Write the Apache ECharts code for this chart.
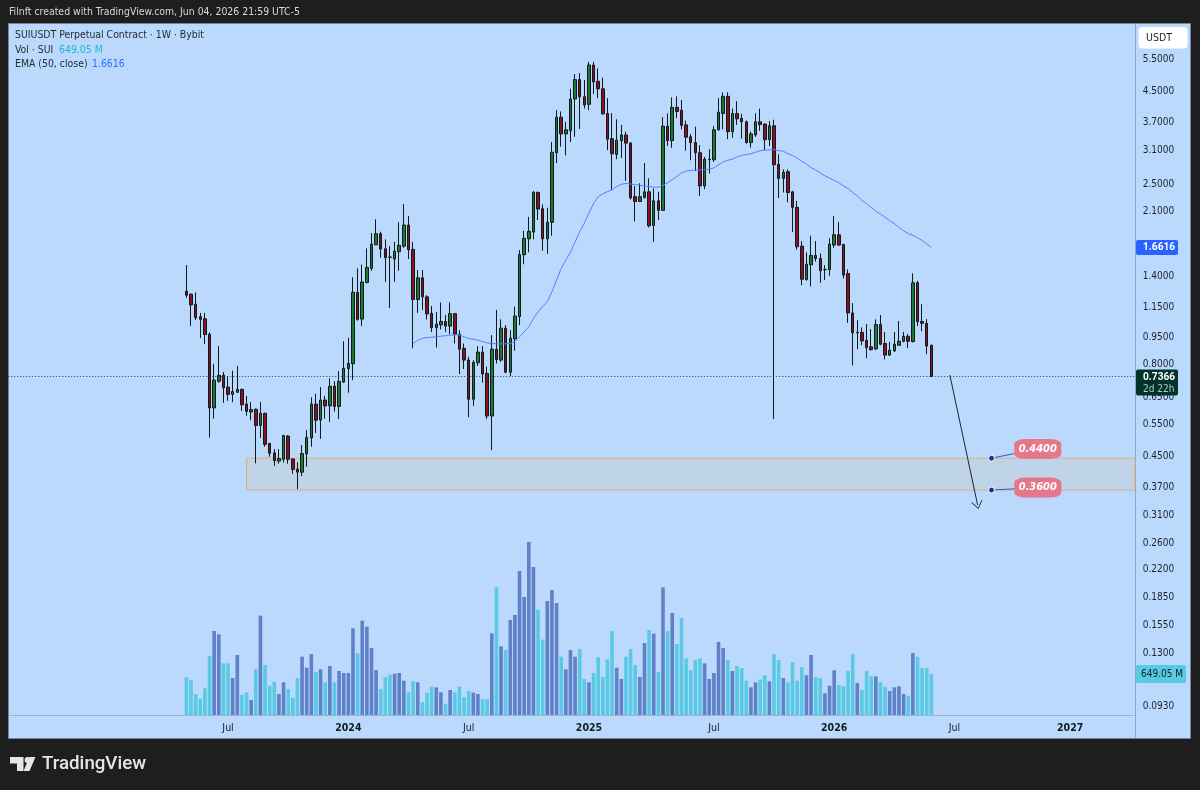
<!DOCTYPE html>
<html>
<head>
<meta charset="utf-8">
<title>SUIUSDT weekly</title>
<style>html,body{margin:0;padding:0;background:#1e1e1e}#c{width:1200px;height:790px}</style>
<script src="https://cdn.jsdelivr.net/npm/echarts@6/dist/echarts.min.js"></script>
</head>
<body>
<div id="c"></div>
<script>
// Weekly candles, SUIUSDT perpetual: [open, close, low, high]
const candles = [
[1.262,1.23,1.21,1.487],[1.238,1.157,1.012,1.243],[1.162,1.067,1.051,1.252],[1.074,1.056,.938,1.10],[1.06,.96,.903,1.10],
[.962,.604,.501,.973],[.604,.72,.565,.798],[.715,.742,.708,.892],[.743,.686,.624,.758],[.689,.658,.632,.738],
[.658,.67,.626,.764],[.667,.679,.664,.787],[.679,.616,.593,.683],[.619,.591,.575,.652],[.589,.598,.559,.627],
[.599,.541,.426,.602],[.541,.584,.5,.627],[.584,.48,.473,.586],[.483,.454,.444,.485],[.455,.433,.419,.466],
[.432,.439,.425,.466],[.437,.508,.428,.509],[.506,.437,.425,.509],[.438,.41,.399,.44],[.411,.403,.362,.429],
[.403,.453,.393,.478],[.452,.501,.417,.525],[.5,.619,.473,.646],[.619,.559,.516,.661],[.56,.635,.497,.689],
[.635,.612,.565,.652],[.612,.693,.553,.728],[.693,.61,.59,.715],[.61,.714,.563,.762],[.711,.776,.708,.92],
[.774,.8,.665,.941],[.798,1.252,.72,1.376],[1.252,1.056,1.047,1.457],[1.058,1.337,1.012,1.492],[1.333,1.465,1.325,1.652],
[1.457,1.698,1.435,1.82],[1.69,1.812,1.687,1.985],[1.812,1.645,1.558,1.835],[1.648,1.558,1.339,1.749],[1.565,1.562,1.134,1.676],
[1.545,1.622,1.339,1.722],[1.618,1.684,1.435,1.948],[1.676,1.915,1.658,2.184],[1.915,1.638,1.545,2.025],[1.642,1.197,.88,1.722],
[1.197,1.372,1.10,1.441],[1.372,1.217,1.12,1.441],[1.217,1.093,1.056,1.23],[1.097,1.002,.974,1.149],[1.002,1.025,.884,1.107],
[1.02,1.042,.991,1.175],[1.042,1.012,.976,1.085],[1.012,1.095,.962,1.175],[1.095,.962,.907,1.097],[.962,.875,.748,.987],
[.88,.817,.772,.907],[.817,.638,.57,.834],[.638,.805,.612,.817],[.803,.859,.787,.892],[.859,.748,.708,.892],
[.751,.574,.563,.784],[.574,.875,.463,.956],[.875,.82,.8,1.12],[.817,.999,.808,1.056],[.999,.757,.752,1.018],
[.757,.938,.738,.987],[.934,1.078,.866,1.144],[1.074,1.588,1.018,1.635],[1.588,1.76,1.495,1.847],[1.755,1.84,1.612,2.016],
[1.831,2.351,1.75,2.372],[2.351,2.117,1.976,2.366],[2.122,1.755,1.628,2.18],[1.755,1.948,1.596,2.135],[1.948,3.03,1.79,3.23],
[3.02,3.78,2.83,3.95],[3.78,3.40,3.14,3.92],[3.40,3.49,2.97,3.67],[3.47,4.24,3.23,4.52],[4.24,4.79,3.34,4.96],
[4.79,4.30,3.51,4.99],[4.30,4.08,3.99,4.78],[4.10,5.25,3.95,5.36],[5.25,4.72,4.38,5.36],[4.74,4.52,4.26,5.14],
[4.52,3.86,3.84,4.85],[3.87,3.29,3.07,4.26],[3.30,3.00,2.39,3.88],[2.99,3.27,2.90,3.73],[3.26,3.38,2.92,3.60],
[3.38,3.21,2.53,3.45],[3.21,2.27,2.25,3.23],[2.29,2.22,1.96,2.45],[2.22,2.29,2.215,2.49],[2.28,2.36,2.26,2.83],
[2.36,1.905,1.885,2.57],[1.91,2.23,1.722,2.41],[2.23,2.10,1.976,2.36],[2.10,3.57,2.095,3.78],[3.57,3.26,3.155,3.87],
[3.26,4.02,3.115,4.28],[4.02,3.92,3.76,4.31],[3.95,3.59,3.50,4.21],[3.60,3.33,3.06,3.70],[3.34,3.22,2.88,3.40],
[3.22,3.02,2.69,3.56],[3.02,2.45,2.30,3.17],[2.45,2.90,2.40,2.94],[2.89,2.90,2.65,3.09],[2.89,3.49,2.85,3.57],
[3.49,3.90,3.47,4.26],[3.87,4.31,3.50,4.42],[4.31,3.45,3.29,4.42],[3.45,3.87,3.32,3.99],[3.87,3.74,3.60,4.18],
[3.75,3.67,3.30,3.86],[3.67,3.22,3.20,3.70],[3.22,3.40,3.12,3.45],[3.38,3.67,3.34,3.87],[3.67,3.61,3.47,3.99],
[3.62,3.28,3.07,3.63],[3.28,3.58,3.15,3.69],[3.58,2.80,.563,3.72],[2.81,2.57,2.27,2.99],[2.57,2.67,2.35,2.72],
[2.68,2.35,2.21,2.72],[2.36,2.14,1.83,2.375],[2.14,1.67,1.64,2.23],[1.676,1.36,1.31,1.73],[1.358,1.495,1.347,1.612],
[1.49,1.58,1.30,1.79],[1.58,1.55,1.52,1.73],[1.55,1.435,1.33,1.60],[1.445,1.447,1.353,1.487],[1.445,1.698,1.39,1.76],
[1.687,1.80,1.658,2.025],[1.80,1.687,1.68,1.95],[1.695,1.396,1.367,1.698],[1.41,1.10,1.033,1.447],[1.10,.97,.79,1.17],
[.97,.973,.875,1.051],[.973,.922,.897,1.004],[.926,.884,.826,1.025],[.888,.873,.866,.993],[.877,1.022,.87,1.056],
[1.022,.903,.897,1.085],[.907,.843,.82,.976],[.843,.87,.838,.916],[.866,.903,.86,.976],[.897,.92,.895,1.045],
[.92,.949,.913,.976],[.949,.92,.881,.962],[.918,1.33,.913,1.412],[1.33,1.04,1.012,1.347],[1.042,1.03,.98,1.162],
[1.03,.893,.848,1.058],[.897,.7366,.7366,.90]
];

// Volume in millions of SUI, one value per candle
const volume = [
596,554,332,253,422,934,1330,1277,818,818,586,950,317,354,237,723,1573,792,464,528,
332,517,412,274,586,923,749,966,681,723,517,776,517,697,665,665,1372,976,1493,1398,
1061,712,412,602,639,654,665,544,359,533,517,206,354,449,438,359,179,396,359,449,
285,380,354,332,253,253,1293,2021,1087,1029,1504,1583,2280,1868,2739,2343,1668,1193,1805,1979,
1773,923,723,1029,923,1045,570,517,665,913,602,881,1330,749,570,923,1045,792,602,1140,
1346,1288,681,2021,1330,1615,1124,1536,897,707,871,897,818,570,665,1156,1061,871,697,776,
744,544,438,517,559,628,533,966,871,586,517,839,544,760,628,950,602,586,343,464,
707,475,459,697,966,507,396,697,612,612,517,449,380,438,454,332,301,982,923,744,
744,649.05
];

// EMA(50) begins on candle emaStart
const emaStart = 49;
const ema = [
.907,.926,.936,.942,.944,.946,.950,.952,.956,.958,.958,.946,.936,.932,.926,.918,.910,.907,.905,.905,
.905,.907,.918,.946,.976,1.008,1.062,1.107,1.144,1.180,1.257,1.353,1.457,1.535,1.614,1.719,1.835,1.937,2.065,2.194,
2.29,2.33,2.365,2.39,2.44,2.475,2.49,2.48,2.47,2.46,2.45,2.44,2.43,2.43,2.46,2.50,2.55,2.60,2.66,2.69,
2.70,2.71,2.71,2.71,2.72,2.745,2.80,2.85,2.88,2.90,2.94,2.97,2.985,3.00,3.03,3.06,3.07,3.075,3.08,3.06,
3.05,3.00,2.97,2.92,2.86,2.81,2.75,2.71,2.66,2.61,2.575,2.535,2.50,2.45,2.41,2.35,2.30,2.235,2.19,2.14,
2.09,2.05,2.01,1.967,1.93,1.885,1.847,1.813,1.795,1.767,1.738,1.70,1.6616
];

const priceTicks = [5.5,4.5,3.7,3.1,2.5,2.1,1.7,1.4,1.15,.95,.8,.65,.55,.45,.37,.31,.26,.22,.185,.155,.13,.11,.093];
const dateTicks = {'2023-07-03':'Jul','2024-01-01':'2024','2024-07-01':'Jul','2024-12-30':'2025','2025-07-07':'Jul','2026-01-05':'2026','2026-07-06':'Jul','2026-12-28':'2027'};

const zoneTop = 0.44, zoneBottom = 0.36, lastPrice = 0.7366, arrowTarget = 0.3275, arrowFrom = 0.743;
const lastEma = ema[ema.length - 1], lastVolume = volume[volume.length - 1];

// Week axis: blank room before the listing and after the latest bar
const leadWeeks = 38, totalWeeks = 244;
const weeks = [];
for (let i = 0; i < totalWeeks; i++) {
  weeks.push(new Date(Date.UTC(2022, 7, 8) + i * 7 * 864e5).toISOString().slice(0, 10));
}
const lead = Array(leadWeeks).fill('-');
const weekAt = i => weeks[leadWeeks + i];

const FONT = '"DejaVu Sans Condensed", "DejaVu Sans", sans-serif';
const TAG_FONT = 'Roboto';
const up = '#1c7a2c', down = '#8c1020', ink = '#0e1a1e';
const volUp = '#6080c8', volDown = '#59c9e4';

const chart = echarts.init(document.getElementById('c'), null, {renderer: 'canvas'});
const gridLeft = 8.26, gridWidth = 1129;

chart.setOption({
  animation: false,
  backgroundColor: '#1e1e1e',
  textStyle: {fontFamily: FONT},
  grid: [
    {left: gridLeft, top: 24, width: gridWidth, height: 691},
    {left: gridLeft, top: 515, width: gridWidth, height: 200}
  ],
  xAxis: [
    {type: 'category', gridIndex: 0, data: weeks, show: false},
    {type: 'category', gridIndex: 1, data: weeks,
      axisLine: {show: false}, axisTick: {show: false}, splitLine: {show: false},
      axisLabel: {
        margin: 8, color: '#131a22', fontSize: 10.5, fontFamily: FONT, hideOverlap: false,
        interval: (i, v) => v in dateTicks,
        formatter: v => {
          const t = dateTicks[v];
          return t === 'Jul' ? t : '{y|' + t + '}';
        },
        rich: {y: {fontWeight: 'bold', fontSize: 10.5, color: '#131a22', fontFamily: FONT}}
      }}
  ],
  yAxis: [
    {type: 'log', logBase: 10, gridIndex: 0, position: 'right', min: 0.08712, max: 6.802,
      axisLine: {show: false}, axisTick: {show: false}, splitLine: {show: false}, minorSplitLine: {show: false},
      axisLabel: {
        customValues: priceTicks, margin: 5.5, color: '#1a222c', fontSize: 10, fontFamily: FONT,
        showMinLabel: true, showMaxLabel: true, verticalAlign: 'top', lineHeight: 3,
        formatter: v => Number(v).toFixed(4)
      }},
    {type: 'value', gridIndex: 1, min: 0, max: 3166, show: false}
  ],
  series: [
    {
      name: 'Vol', type: 'bar', xAxisIndex: 1, yAxisIndex: 1, z: 1, barWidth: 3.6,
      data: lead.concat(volume),
      itemStyle: {
        color: p => {
          const c = candles[p.dataIndex - leadWeeks];
          return c && c[1] < c[0] ? volDown : volUp;
        }
      }
    },
    {
      name: 'SUIUSDT', type: 'candlestick', xAxisIndex: 0, yAxisIndex: 0, z: 3, barWidth: 3,
      data: lead.concat(candles),
      itemStyle: {color: up, color0: down, borderColor: ink, borderColor0: ink, borderWidth: 1},
      markArea: {
        silent: true, z: 1,
        itemStyle: {color: 'rgba(198,206,208,0.45)', borderColor: '#e6ab72', borderWidth: 1},
        data: [[{xAxis: weekAt(13), yAxis: zoneTop}, {xAxis: weeks[totalWeeks - 1], yAxis: zoneBottom}]]
      },
      markLine: {
        silent: true, z: 5, symbol: 'none', label: {show: false}, animation: false,
        data: [
          {yAxis: lastPrice, lineStyle: {color: '#17454a', type: [1, 2], width: 1}},
          [{coord: [weekAt(165), arrowFrom], symbol: 'none', lineStyle: {color: '#1c2530', type: 'solid', width: 1}},
           {coord: [weekAt(171), arrowTarget], symbol: 'path://M0,0 L9,11 L8,12 L0,2 L-8,12 L-9,11 Z', symbolSize: [11, 8]}],
          [{coord: [weekAt(174), zoneTop], symbol: 'none', lineStyle: {color: '#2f5fc0', type: 'solid', width: 1}},
           {coord: [weekAt(184), 0.4665], symbol: 'none'}],
          [{coord: [weekAt(174), zoneBottom], symbol: 'none', lineStyle: {color: '#2f5fc0', type: 'solid', width: 1}},
           {coord: [weekAt(184), 0.3655], symbol: 'none'}]
        ]
      },
      markPoint: {
        silent: true, z: 6, animation: false,
        data: [
          {coord: [weekAt(174), zoneTop], symbol: 'circle', symbolSize: 6, label: {show: false},
            itemStyle: {color: '#0d3a9c', borderColor: '#fff', borderWidth: 1}},
          {coord: [weekAt(174), zoneBottom], symbol: 'circle', symbolSize: 6, label: {show: false},
            itemStyle: {color: '#0d3a9c', borderColor: '#fff', borderWidth: 1}},
          {coord: [weekAt(184), 0.4665], symbol: 'roundRect', symbolSize: [47, 20], itemStyle: {color: '#e5778b'},
            label: {show: true, position: 'inside', formatter: zoneTop.toFixed(4), color: '#fff', fontStyle: 'italic', fontWeight: 'bold', fontSize: 11, fontFamily: FONT}},
          {coord: [weekAt(184), 0.3655], symbol: 'roundRect', symbolSize: [47, 20], itemStyle: {color: '#e5778b'},
            label: {show: true, position: 'inside', formatter: zoneBottom.toFixed(4), color: '#fff', fontStyle: 'italic', fontWeight: 'bold', fontSize: 11, fontFamily: FONT}}
        ]
      }
    },
    {
      name: 'EMA', type: 'line', xAxisIndex: 0, yAxisIndex: 0, z: 4, symbol: 'none', smooth: false,
      lineStyle: {color: '#4f82ff', width: 1},
      data: Array(leadWeeks + emaStart).fill('-').concat(ema)
    }
  ]
});

// Panel frame, header, legend and the right-hand price tags
const yEma = chart.convertToPixel({yAxisIndex: 0}, lastEma);
const yLast = chart.convertToPixel({yAxisIndex: 0}, lastPrice);
const yVol = chart.convertToPixel({yAxisIndex: 1}, lastVolume);

const txt = (x, y, text, fill, size, extra) => ({
  type: 'text', z: 100, x, y,
  style: Object.assign({text, fill, fontSize: size, fontFamily: FONT, textVerticalAlign: 'middle'}, extra || {})
});
const box = (x, y, w, h, fill, r, z) => ({
  type: 'rect', z: z === undefined ? 90 : z, shape: {x, y, width: w, height: h, r: r || 0}, style: {fill}
});

chart.setOption({
  graphic: {elements: [
    {type: 'rect', z: -10, shape: {x: 8.5, y: 23.5, width: 1182, height: 715}, style: {fill: '#bbd9fc', stroke: '#77879a', lineWidth: 1}},
    {type: 'line', z: -5, shape: {x1: 1135.5, y1: 24, x2: 1135.5, y2: 738}, style: {stroke: '#8ea6c2', lineWidth: 1}},
    {type: 'line', z: -5, shape: {x1: 9, y1: 715.5, x2: 1135, y2: 715.5}, style: {stroke: '#9db2cb', lineWidth: 1}},

    txt(9, 12.5, 'Filnft created with TradingView.com, Jun 04, 2026 21:59 UTC-5', '#d8d8d8', 10.4),
    txt(15, 35.5, 'SUIUSDT Perpetual Contract · 1W · Bybit', '#1f2933', 10.4),
    txt(15, 50, 'Vol · SUI', '#1f2933', 10.4),
    txt(59, 50, lastVolume.toFixed(2) + ' M', '#1fb4d6', 10.4),
    txt(15, 64, 'EMA (50, close)', '#1f2933', 10.4),
    txt(92, 64, lastEma.toFixed(4), '#2f6bff', 10.4),

    box(1138.5, 27, 49, 21.5, '#ffffff', 4),
    txt(1146, 38, 'USDT', '#1a222c', 10.5),

    box(1136, yEma - 7.5, 42, 15, '#2962ff', 2),
    txt(1143, yEma, lastEma.toFixed(4), '#ffffff', 10.2, {fontFamily: TAG_FONT, fontWeight: 'bold'}),

    box(1136, yLast - 7, 42, 26, '#00332a', 2),
    txt(1143, yLast + 0.5, lastPrice.toFixed(4), '#ffffff', 10.2, {fontFamily: TAG_FONT, fontWeight: 'bold'}),
    txt(1143, yLast + 12.5, '2d 22h', '#b8c8c4', 10),

    box(1136, yVol - 9, 50, 18, '#59c9e4', 2),
    txt(1141, yVol, lastVolume.toFixed(2) + ' M', '#10222c', 10),

    {type: 'polygon', z: 100, shape: {points: [[10, 757], [23.5, 757], [23.5, 771], [17, 771], [17, 763.5], [10, 763.5]]}, style: {fill: '#e6e6e6'}},
    {type: 'circle', z: 100, shape: {cx: 27.5, cy: 760, r: 2.9}, style: {fill: '#e6e6e6'}},
    {type: 'polygon', z: 100, shape: {points: [[29.5, 757], [35.5, 757], [29.5, 771], [23.5, 771]]}, style: {fill: '#e6e6e6'}},
    txt(42, 764, 'TradingView', '#e6e6e6', 18.7, {fontFamily: 'Roboto', fontWeight: 500})
  ]}
});
</script>
</body>
</html>
